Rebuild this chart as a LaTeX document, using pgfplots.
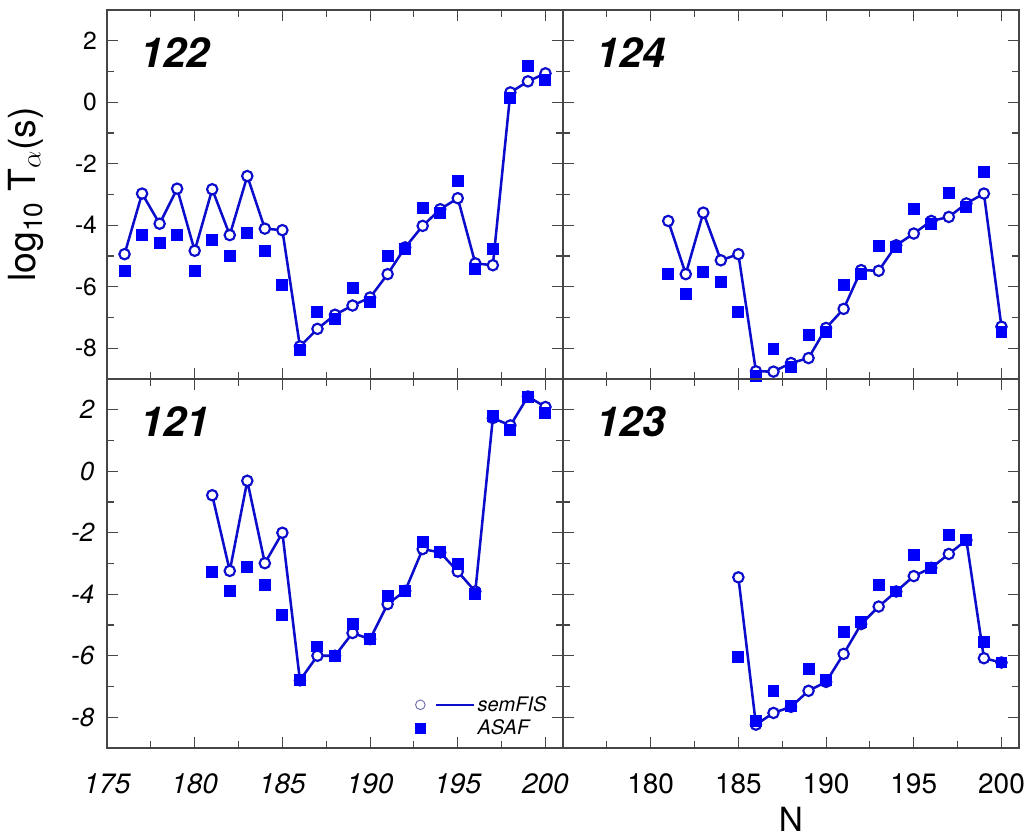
\documentclass[border=0pt]{standalone}
\usepackage{fontspec}
\setmainfont{TeX Gyre Heros}
\usepackage{pgfplots}
\usepackage{pgfplotstable}
\pgfplotsset{compat=1.18}

\definecolor{linecol}{RGB}{12,12,205}
\definecolor{sqcol}{RGB}{0,0,250}
\definecolor{legcirc}{RGB}{110,110,175}
\definecolor{axcol}{RGB}{70,70,70}

\pgfplotstableread{
N sem asaf
176 -4.94 -5.50
177 -2.97 -4.32
178 -3.95 -4.59
179 -2.81 -4.32
180 -4.83 -5.48
181 -2.83 -4.49
182 -4.32 -4.99
183 -2.40 -4.24
184 -4.11 -4.83
185 -4.16 -5.94
186 -7.94 -8.05
187 -7.37 -6.81
188 -6.91 -7.05
189 -6.61 -6.04
190 -6.35 -6.51
191 -5.59 -5.01
192 -4.72 -4.78
193 -4.02 -3.43
194 -3.48 -3.61
195 -3.12 -2.56
196 -5.24 -5.41
197 -5.30 -4.78
198 0.32 0.14
199 0.68 1.19
200 0.94 0.71
}\tabA

\pgfplotstableread{
N sem asaf
181 -3.86 -5.59
182 -5.59 -6.24
183 -3.59 -5.51
184 -5.14 -5.86
185 -4.94 -6.83
186 -8.75 -8.89
187 -8.76 -8.02
188 -8.48 -8.62
189 -8.32 -7.56
190 -7.34 -7.46
191 -6.72 -5.95
192 -5.46 -5.59
193 -5.48 -4.67
194 -4.65 -4.72
195 -4.27 -3.48
196 -3.86 -3.97
197 -3.73 -2.96
198 -3.29 -3.41
199 -2.97 -2.27
200 -7.30 -7.48
}\tabB

\pgfplotstableread{
N sem asaf
181 -0.78 -3.29
182 -3.24 -3.89
183 -0.31 -3.10
184 -2.99 -3.70
185 -2.00 -4.67
186 -6.80 -6.80
187 -6.00 -5.70
188 -6.00 -6.00
189 -5.26 -4.96
190 -5.46 -5.46
191 -4.32 -4.05
192 -3.89 -3.89
193 -2.53 -2.31
194 -2.64 -2.64
195 -3.26 -3.03
196 -3.91 -3.99
197 1.73 1.79
198 1.49 1.33
199 2.43 2.43
200 2.09 1.89
}\tabC

\pgfplotstableread{
N sem asaf
185 -3.45 -6.05
186 -8.24 -8.13
187 -7.86 -7.16
188 -7.66 -7.62
189 -7.14 -6.42
190 -6.85 -6.80
191 -5.94 -5.23
192 -4.97 -4.89
193 -4.40 -3.70
194 -3.91 -3.91
195 -3.41 -2.72
196 -3.14 -3.14
197 -2.69 -2.06
198 -2.24 -2.24
199 -6.08 -5.54
200 -6.22 -6.22
}\tabD

\tikzset{plabel/.style={anchor=base west, inner sep=0pt, font=\fontsize{31}{36}\selectfont\bfseries\itshape}}

\pgfplotsset{
  panel/.style={
    scale only axis, width=342pt, height=276.75pt,
    xmin=175, xmax=201, ymin=-9, ymax=3,
    xtick={175,180,...,200}, minor xtick={177.5,182.5,187.5,192.5,197.5},
    ytick={-8,-6,...,2}, minor ytick={-7,-5,...,1},
    tick align=inside, major tick length=8pt, minor tick length=5pt,
    axis line style={line width=0.8pt, axcol},
    every tick/.style={line width=0.8pt, axcol},
    xticklabels={}, yticklabels={},
    clip=false,
  },
  semstyle/.style={color=linecol, draw=linecol, line width=1.9pt, mark=*, mark size=3.9pt,
    mark options={fill=white, draw=linecol, line width=1.6pt, solid}},
  asafstyle/.style={only marks, color=sqcol, mark=square*, mark size=4.1pt,
    mark options={fill=sqcol, draw=sqcol, line width=0pt}},
}

\begin{document}
\begin{tikzpicture}
\useasboundingbox (0pt,0pt) rectangle (771.75pt,-627pt);

% upper left: 122
\begin{axis}[panel, name=ul, at={(80.25pt,-7.5pt)}, anchor=north west,
  yticklabels={-8,-6,-4,-2,0,2},
  yticklabel style={font=\fontsize{18.5}{22}\selectfont, xshift=-4pt},
  ylabel={log\textsubscript{10} T\textsubscript{$\alpha$}(s)},
  ylabel style={font=\fontsize{28}{32}\selectfont, at={(axis description cs:-0.178,0.5)}, anchor=center}]
\addplot[semstyle] table[x=N,y=sem] {\tabA};
\addplot[asafstyle] table[x=N,y=asaf] {\tabA};
\node[plabel] at (rel axis cs:0.072,0.843) {122};
\end{axis}

% upper right: 124
\begin{axis}[panel, name=ur, at={(422.25pt,-7.5pt)}, anchor=north west]
\addplot[semstyle] table[x=N,y=sem] {\tabB};
\addplot[asafstyle] table[x=N,y=asaf] {\tabB};
\node[plabel] at (rel axis cs:0.072,0.843) {124};
\end{axis}

% lower left: 121
\begin{axis}[panel, name=ll, at={(80.25pt,-284.25pt)}, anchor=north west,
  yticklabels={-8,-6,-4,-2,0,2},
  yticklabel style={font=\fontsize{19.5}{23}\selectfont\itshape, xshift=-6pt},
  xticklabels={175,180,185,190,195,200},
  xticklabel style={font=\fontsize{21}{25}\selectfont\itshape, yshift=-16pt},
  legend style={at={(0.674,0.148)}, anchor=north west, draw=none, fill=none,
    font=\fontsize{15}{18}\selectfont\itshape, row sep=1pt, inner sep=0pt},
  legend cell align=left]
\addplot[semstyle, forget plot] table[x=N,y=sem] {\tabC};
\addplot[asafstyle, forget plot] table[x=N,y=asaf] {\tabC};
\node[plabel] at (rel axis cs:0.072,0.843) {121};
\addlegendimage{legend image code/.code={
  \draw[legcirc, line width=0.7pt] (0pt,0pt) circle (3.6pt);
  \draw[linecol, line width=1.3pt] (11.6pt,0pt) -- (40.3pt,0pt);}}
\addlegendentry{semFIS}
\addlegendimage{legend image code/.code={
  \path[draw=none, fill=none] (-4.3pt,0pt) -- (40.95pt,0pt);
  \fill[sqcol] (-3.8pt,-3.8pt) rectangle (3.8pt,3.8pt);}}
\addlegendentry{ASAF}
\end{axis}

% lower right: 123
\begin{axis}[panel, name=lr, at={(422.25pt,-284.25pt)}, anchor=north west,
  xticklabels={,180,185,190,195,200},
  xticklabel style={font=\fontsize{21}{25}\selectfont, yshift=-16pt},
  xlabel={N},
  xlabel style={font=\fontsize{25}{29}\selectfont, inner sep=0pt, text depth=0pt, yshift=-6.5pt}]
\addplot[semstyle] table[x=N,y=sem] {\tabD};
\addplot[asafstyle] table[x=N,y=asaf] {\tabD};
\node[plabel] at (rel axis cs:0.072,0.843) {123};
\end{axis}
\end{tikzpicture}
\end{document}
